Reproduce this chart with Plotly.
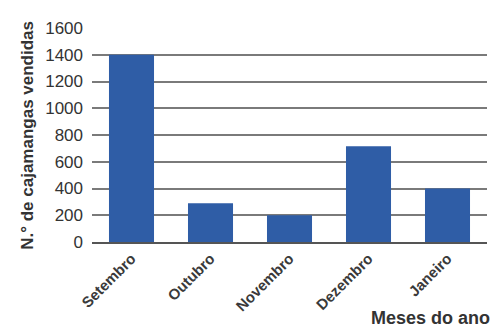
import plotly.graph_objects as go

meses = ["Setembro", "Outubro", "Novembro", "Dezembro", "Janeiro"]
vendidas = [1400, 290, 200, 715, 400]
y_ticks = [0, 200, 400, 600, 800, 1000, 1200, 1400, 1600]

fig = go.Figure(
    go.Bar(x=meses, y=vendidas, marker=dict(color="#2F5DA6", line=dict(width=0)))
)

fig.update_layout(
    width=496,
    height=327,
    margin=dict(l=92, r=9, t=28, b=85),
    paper_bgcolor="white",
    plot_bgcolor="white",
    bargap=0.43,
    showlegend=False,
    font=dict(family="Liberation Sans, Arial, sans-serif", color="#333333"),
)

fig.update_xaxes(
    tickangle=-45,
    tickvals=meses,
    ticktext=[f"<b>{m}</b>" for m in meses],
    tickfont=dict(size=15, color="#3a3a3a"),
    showline=True,
    linecolor="#555555",
    linewidth=2,
    ticks="",
    showgrid=False,
)

fig.update_yaxes(
    range=[0, 1600],
    tickvals=y_ticks,
    tickfont=dict(size=17, color="#333333"),
    showgrid=True,
    gridcolor="#7a7a7a",
    gridwidth=2,
    zeroline=False,
    showline=False,
    ticks="",
    ticklabelstandoff=8,
)

fig.add_annotation(
    text="<b>N.° de cajamangas vendidas</b>",
    xref="paper", yref="paper",
    x=-0.165, y=0.5,
    xanchor="center", yanchor="middle",
    textangle=-90,
    showarrow=False,
    font=dict(size=17, color="#333333"),
)

fig.add_annotation(
    text="<b>Meses do ano</b>",
    xref="paper", yref="paper",
    x=1.012, y=-0.3,
    xanchor="right", yanchor="top",
    showarrow=False,
    font=dict(size=18, color="#333333"),
)

fig.write_html("out.html")
